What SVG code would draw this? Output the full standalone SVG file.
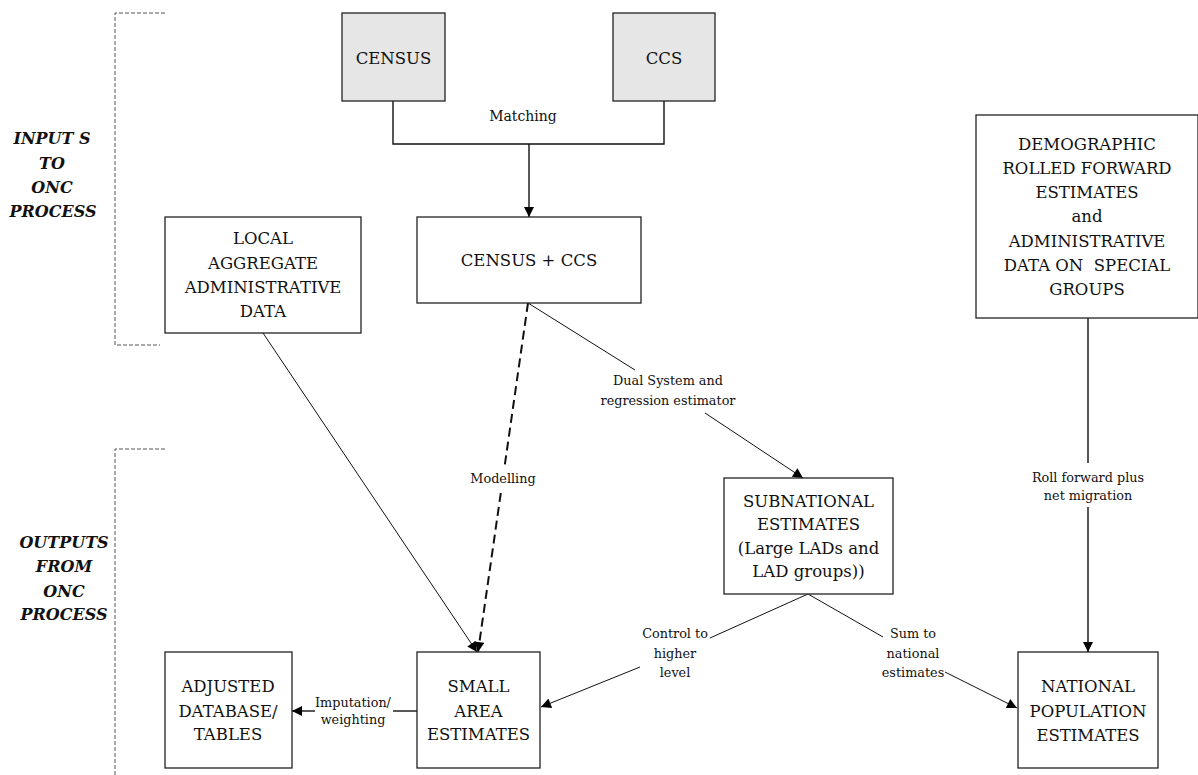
<svg xmlns="http://www.w3.org/2000/svg" width="1198" height="775" viewBox="0 0 1198 775" font-family="'DejaVu Serif', 'Liberation Serif', serif">
<style>
.box{fill:#fff;stroke:#222;stroke-width:1.3}
.grey{fill:#e6e6e6}
text{fill:#111;text-anchor:middle}
.t{font-size:16.5px}
.l{font-size:12.8px}
.side{font-size:16px;font-weight:bold;font-style:italic}
.c{fill:none;stroke:#111;stroke-width:1}
.m{fill:none;stroke:#111;stroke-width:1.4}
.d{fill:none;stroke:#111;stroke-width:2;stroke-dasharray:9 5}
.br{fill:none;stroke:#555;stroke-width:1;stroke-dasharray:4 2}
</style>
<defs>
<marker id="ah" viewBox="0 0 10 10" refX="10" refY="5" markerWidth="11" markerHeight="10" markerUnits="userSpaceOnUse" orient="auto">
<path d="M0,0 L10,5 L0,10 z" fill="#000"/>
</marker>
</defs>
<rect width="1198" height="775" fill="#fff"/>

<g id="bracket-inputs">
<path class="br" d="M165,13 H115 V345 H160"/>
<text class="side" x="52" y="144">INPUT S</text>
<text class="side" x="52" y="169">TO</text>
<text class="side" x="52" y="193">ONC</text>
<text class="side" x="53" y="217">PROCESS</text>
</g>
<g id="bracket-outputs">
<path class="br" d="M165,449 H115 V775"/>
<text class="side" x="64" y="548">OUTPUTS</text>
<text class="side" x="64" y="572">FROM</text>
<text class="side" x="64" y="597">ONC</text>
<text class="side" x="64" y="620">PROCESS</text>
</g>

<g id="connectors">
<polyline class="m" points="393,101 393,144 664,144 664,101"/>
<line class="m" x1="529" y1="144" x2="529" y2="217" marker-end="url(#ah)"/>
<text class="l" x="523" y="121" style="font-size:14px">Matching</text>

<line class="c" x1="263" y1="333" x2="477" y2="652" marker-end="url(#ah)"/>

<line class="d" x1="528" y1="303" x2="504.5" y2="467"/>
<line class="d" x1="500.8" y1="493" x2="478" y2="652" marker-end="url(#ah)"/>
<text class="l" x="503" y="483">Modelling</text>

<line class="c" x1="528" y1="303" x2="635" y2="370"/>
<line class="c" x1="705" y1="413" x2="803" y2="478" marker-end="url(#ah)"/>
<text class="l" x="668" y="385">Dual System and</text>
<text class="l" x="668" y="405">regression estimator</text>

<line class="c" x1="808" y1="594" x2="710" y2="638"/>
<line class="c" x1="640" y1="667" x2="541" y2="707" marker-end="url(#ah)"/>
<text class="l" x="675" y="638">Control to</text>
<text class="l" x="675" y="658">higher</text>
<text class="l" x="675" y="677">level</text>

<line class="c" x1="808" y1="594" x2="883" y2="637"/>
<line class="c" x1="945" y1="672" x2="1017" y2="708" marker-end="url(#ah)"/>
<text class="l" x="913" y="638">Sum to</text>
<text class="l" x="913" y="658">national</text>
<text class="l" x="913" y="677">estimates</text>

<line class="m" x1="1088" y1="318" x2="1088" y2="463"/>
<line class="m" x1="1088" y1="507" x2="1088" y2="652" marker-end="url(#ah)"/>
<text class="l" x="1088" y="482">Roll forward plus</text>
<text class="l" x="1088" y="500">net migration</text>

<line class="m" x1="417" y1="711" x2="393" y2="711"/>
<line class="m" x1="315" y1="711" x2="292" y2="711" marker-end="url(#ah)"/>
<text class="l" x="353" y="707">Imputation/</text>
<text class="l" x="353" y="724">weighting</text>
</g>

<g id="census">
<rect class="box grey" x="342" y="13" width="103" height="88"/>
<text class="t" x="393.5" y="64">CENSUS</text>
</g>
<g id="ccs">
<rect class="box grey" x="613" y="13" width="102" height="88"/>
<text class="t" x="664" y="64">CCS</text>
</g>
<g id="census-ccs">
<rect class="box" x="417" y="217" width="224" height="86"/>
<text class="t" x="529" y="266">CENSUS + CCS</text>
</g>
<g id="local-admin">
<rect class="box" x="165" y="217" width="196" height="116"/>
<text class="t" x="263" y="244">LOCAL</text>
<text class="t" x="263" y="269">AGGREGATE</text>
<text class="t" x="263" y="293">ADMINISTRATIVE</text>
<text class="t" x="263" y="317">DATA</text>
</g>
<g id="demographic">
<rect class="box" x="976" y="115" width="222" height="203"/>
<text class="t" x="1087" y="150">DEMOGRAPHIC</text>
<text class="t" x="1087" y="174">ROLLED FORWARD</text>
<text class="t" x="1087" y="198">ESTIMATES</text>
<text class="t" x="1087" y="222">and</text>
<text class="t" x="1087" y="247">ADMINISTRATIVE</text>
<text class="t" x="1087" y="271" xml:space="preserve">DATA ON  SPECIAL</text>
<text class="t" x="1087" y="295">GROUPS</text>
</g>
<g id="subnational">
<rect class="box" x="724" y="478" width="169" height="116"/>
<text class="t" x="808.5" y="507">SUBNATIONAL</text>
<text class="t" x="808.5" y="530">ESTIMATES</text>
<text class="t" x="808.5" y="554">(Large LADs and</text>
<text class="t" x="808.5" y="577">LAD groups))</text>
</g>
<g id="adjusted">
<rect class="box" x="165" y="652" width="127" height="116"/>
<text class="t" x="228" y="692">ADJUSTED</text>
<text class="t" x="228" y="717">DATABASE/</text>
<text class="t" x="228" y="740">TABLES</text>
</g>
<g id="small-area">
<rect class="box" x="417" y="652" width="123" height="116"/>
<text class="t" x="478.5" y="692">SMALL</text>
<text class="t" x="478.5" y="717">AREA</text>
<text class="t" x="478.5" y="740">ESTIMATES</text>
</g>
<g id="national">
<rect class="box" x="1018" y="652" width="140" height="116"/>
<text class="t" x="1088" y="692">NATIONAL</text>
<text class="t" x="1088" y="717">POPULATION</text>
<text class="t" x="1088" y="741">ESTIMATES</text>
</g>
</svg>
